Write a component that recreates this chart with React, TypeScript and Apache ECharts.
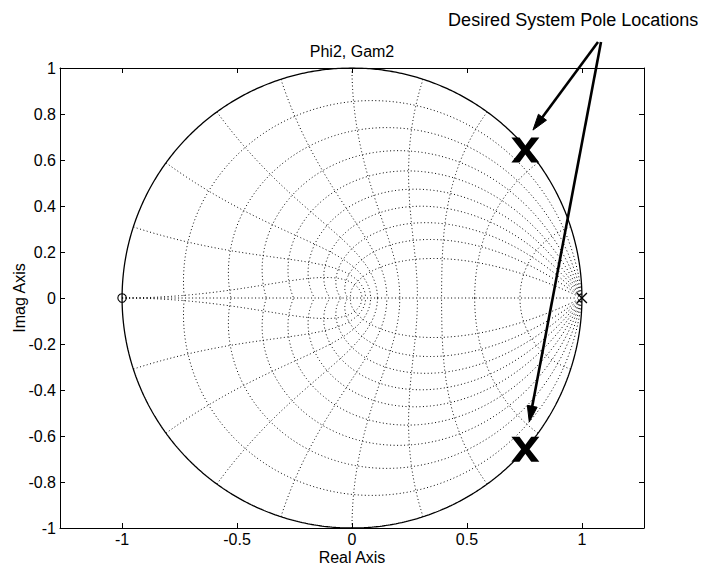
import React, { useEffect, useRef } from "react";
import * as echarts from "echarts";

// zgrid parameters
const zetaValues = [0.1, 0.2, 0.3, 0.4, 0.5, 0.6, 0.7, 0.8, 0.9];
const wnValues = [0.1, 0.2, 0.3, 0.4, 0.5, 0.6, 0.7, 0.8, 0.9, 1.0]; // x pi
// open-loop zeros / poles
const systemZeros = [[-1, 0]];
const systemPoles = [[1, 0]];
// desired closed-loop poles (big X marks)
const desiredPoles = [
  [0.754, 0.643],
  [0.754, -0.658],
];
// ticks
const xTicks = [-1, -0.5, 0, 0.5, 1];
const yTicks = [-1, -0.8, -0.6, -0.4, -0.2, 0, 0.2, 0.4, 0.6, 0.8, 1];
// annotation (data units)
const annotationText = "Desired System Pole Locations";
const annotationPos = [0.962, 1.209];
const arrowStarts = [
  [1.07, 1.113],
  [1.083, 1.113],
];
const arrowTips = [
  [0.787, 0.73],
  [0.771, -0.539],
];

const FONT = "'Liberation Sans', Arial, Helvetica, sans-serif";

function spiral(zeta: number, sign: number) {
  const pts: number[][] = [];
  const N = 300;
  const k = zeta / Math.sqrt(1 - zeta * zeta);
  for (let i = 0; i <= N; i++) {
    const th = (Math.PI * i) / N;
    const r = Math.exp(-k * th);
    pts.push([r * Math.cos(th), sign * r * Math.sin(th)]);
  }
  return pts;
}

function wnCurve(wn: number, sign: number) {
  const pts: number[][] = [];
  const N = 300;
  const w = wn * Math.PI;
  for (let i = 0; i <= N; i++) {
    const z = i / N;
    const r = Math.exp(-w * z);
    const ph = w * Math.sqrt(Math.max(0, 1 - z * z));
    pts.push([r * Math.cos(ph), sign * r * Math.sin(ph)]);
  }
  return pts;
}

function unitCircle() {
  const pts: number[][] = [];
  for (let i = 0; i <= 720; i++) {
    const t = (2 * Math.PI * i) / 720;
    pts.push([Math.cos(t), Math.sin(t)]);
  }
  return pts;
}

const dotted = { color: "#000", width: 1, type: [1, 2.5] as any, cap: "butt" as any };

export default function App() {
  const ref = useRef<HTMLDivElement>(null);
  useEffect(() => {
    if (!ref.current) return;
    const chart = echarts.init(ref.current, null, { renderer: "svg" });

    const gridSeries: any[] = [];
    const addCurve = (data: number[][]) =>
      gridSeries.push({
        type: "line",
        data,
        showSymbol: false,
        symbol: "none",
        silent: true,
        lineStyle: dotted,
        z: 1,
      });
    zetaValues.forEach((z) => {
      addCurve(spiral(z, 1));
      addCurve(spiral(z, -1));
    });
    wnValues.forEach((w) => {
      addCurve(wnCurve(w, 1));
      addCurve(wnCurve(w, -1));
    });
    addCurve([
      [-1, 0],
      [1, 0],
    ]);

    const axisCommon = {
      type: "value",
      axisLine: { show: true, onZero: false, lineStyle: { color: "#000", width: 1 } },
      splitLine: { show: false },
    };

    const option: any = {
      animation: false,
      backgroundColor: "#fff",
      grid: {
        left: 60,
        right: 62,
        top: 68,
        bottom: 44,
        containLabel: false,
        outerBoundsMode: "none",
      },
      xAxis: [
        {
          ...axisCommon,
          min: -1.27,
          max: 1.27,
          position: "bottom",
          axisTick: { inside: true, length: 5, customValues: xTicks, lineStyle: { color: "#000" } },
          axisLabel: {
            customValues: xTicks,
            color: "#000",
            fontSize: 16,
            fontFamily: FONT,
            margin: 3,
            formatter: (v: number) => String(Math.round(v * 10) / 10),
          },
          name: "Real Axis",
          nameLocation: "middle",
          nameGap: 21,
          nameMoveOverlap: false,
          nameTextStyle: { color: "#000", fontSize: 16, fontFamily: FONT },
        },
        {
          ...axisCommon,
          min: -1.27,
          max: 1.27,
          position: "top",
          axisTick: { inside: true, length: 5, customValues: xTicks, lineStyle: { color: "#000" } },
          axisLabel: { show: false },
        },
      ],
      yAxis: [
        {
          ...axisCommon,
          min: -1,
          max: 1,
          interval: 0.2,
          position: "left",
          axisTick: { inside: true, length: 5, lineStyle: { color: "#000" } },
          axisLabel: {
            color: "#000",
            fontSize: 16,
            fontFamily: FONT,
            margin: 4,
            formatter: (v: number) => String(Math.round(v * 10) / 10),
          },
          name: "Imag Axis",
          nameLocation: "middle",
          nameGap: 33,
          nameMoveOverlap: false,
          nameRotate: 90,
          nameTextStyle: { color: "#000", fontSize: 16, fontFamily: FONT },
        },
        {
          ...axisCommon,
          min: -1,
          max: 1,
          interval: 0.2,
          position: "right",
          axisTick: { inside: true, length: 5, lineStyle: { color: "#000" } },
          axisLabel: { show: false },
        },
      ],
      series: [
        ...gridSeries,
        {
          type: "line",
          data: unitCircle(),
          showSymbol: false,
          symbol: "none",
          silent: true,
          lineStyle: { color: "#000", width: 1.3 },
          z: 2,
        },
        {
          type: "scatter",
          data: systemZeros,
          symbol: "circle",
          symbolSize: 8.5,
          silent: true,
          itemStyle: { color: "rgba(0,0,0,0)", borderColor: "#000", borderWidth: 1.1, opacity: 1 },
          z: 3,
        },
        {
          type: "scatter",
          data: systemPoles,
          symbol: "path://M0,0L10,10M10,0L0,10",
          symbolSize: 10,
          silent: true,
          itemStyle: { color: "none", borderColor: "#000", borderWidth: 1.3, opacity: 1 },
          z: 3,
        },
        {
          type: "scatter",
          data: desiredPoles,
          symbol:
            "path://M0,0L29,0L50,32L71,0L100,0L65,50L100,100L71,100L50,68L29,100L0,100L35,50Z",
          symbolSize: [28, 25],
          silent: true,
          itemStyle: { color: "#000", opacity: 1 },
          z: 4,
        },
      ],
    };
    chart.setOption(option);

    const px = (p: number[]) => chart.convertToPixel({ gridIndex: 0 }, p) as number[];
    const graphics: any[] = [];
    const tPos = px(annotationPos);
    graphics.push({
      type: "text",
      x: tPos[0],
      y: tPos[1],
      silent: true,
      style: {
        text: annotationText,
        fill: "#000",
        font: `18px ${FONT}`,
        align: "center",
        verticalAlign: "middle",
      },
    });
    const c = px([0, 1]);
    graphics.push({
      type: "text",
      x: c[0],
      y: 51,
      silent: true,
      style: {
        text: "Phi2, Gam2",
        fill: "#000",
        font: `16px ${FONT}`,
        align: "center",
        verticalAlign: "middle",
      },
    });
    arrowStarts.forEach((s, i) => {
      const S = px(s);
      const T = px(arrowTips[i]);
      const dx = T[0] - S[0];
      const dy = T[1] - S[1];
      const L = Math.hypot(dx, dy);
      const ux = dx / L;
      const uy = dy / L;
      const hl = 16;
      const hw = 5;
      const B = [T[0] - ux * hl, T[1] - uy * hl];
      graphics.push({
        type: "line",
        silent: true,
        shape: { x1: S[0], y1: S[1], x2: B[0] + ux * 2, y2: B[1] + uy * 2 },
        style: { stroke: "#000", lineWidth: 2.6 },
        z: 10,
      });
      graphics.push({
        type: "polygon",
        silent: true,
        shape: {
          points: [
            [T[0], T[1]],
            [B[0] - uy * hw, B[1] + ux * hw],
            [B[0] + uy * hw, B[1] - ux * hw],
          ],
        },
        style: { fill: "#000", stroke: "#000", lineWidth: 1 },
        z: 10,
      });
    });
    chart.setOption({ graphic: graphics });

    return () => chart.dispose();
  }, []);
  return (
    <div
      ref={ref}
      style={{ position: "fixed", left: 0, top: 0, width: 706, height: 572, background: "#fff" }}
    />
  );
}
